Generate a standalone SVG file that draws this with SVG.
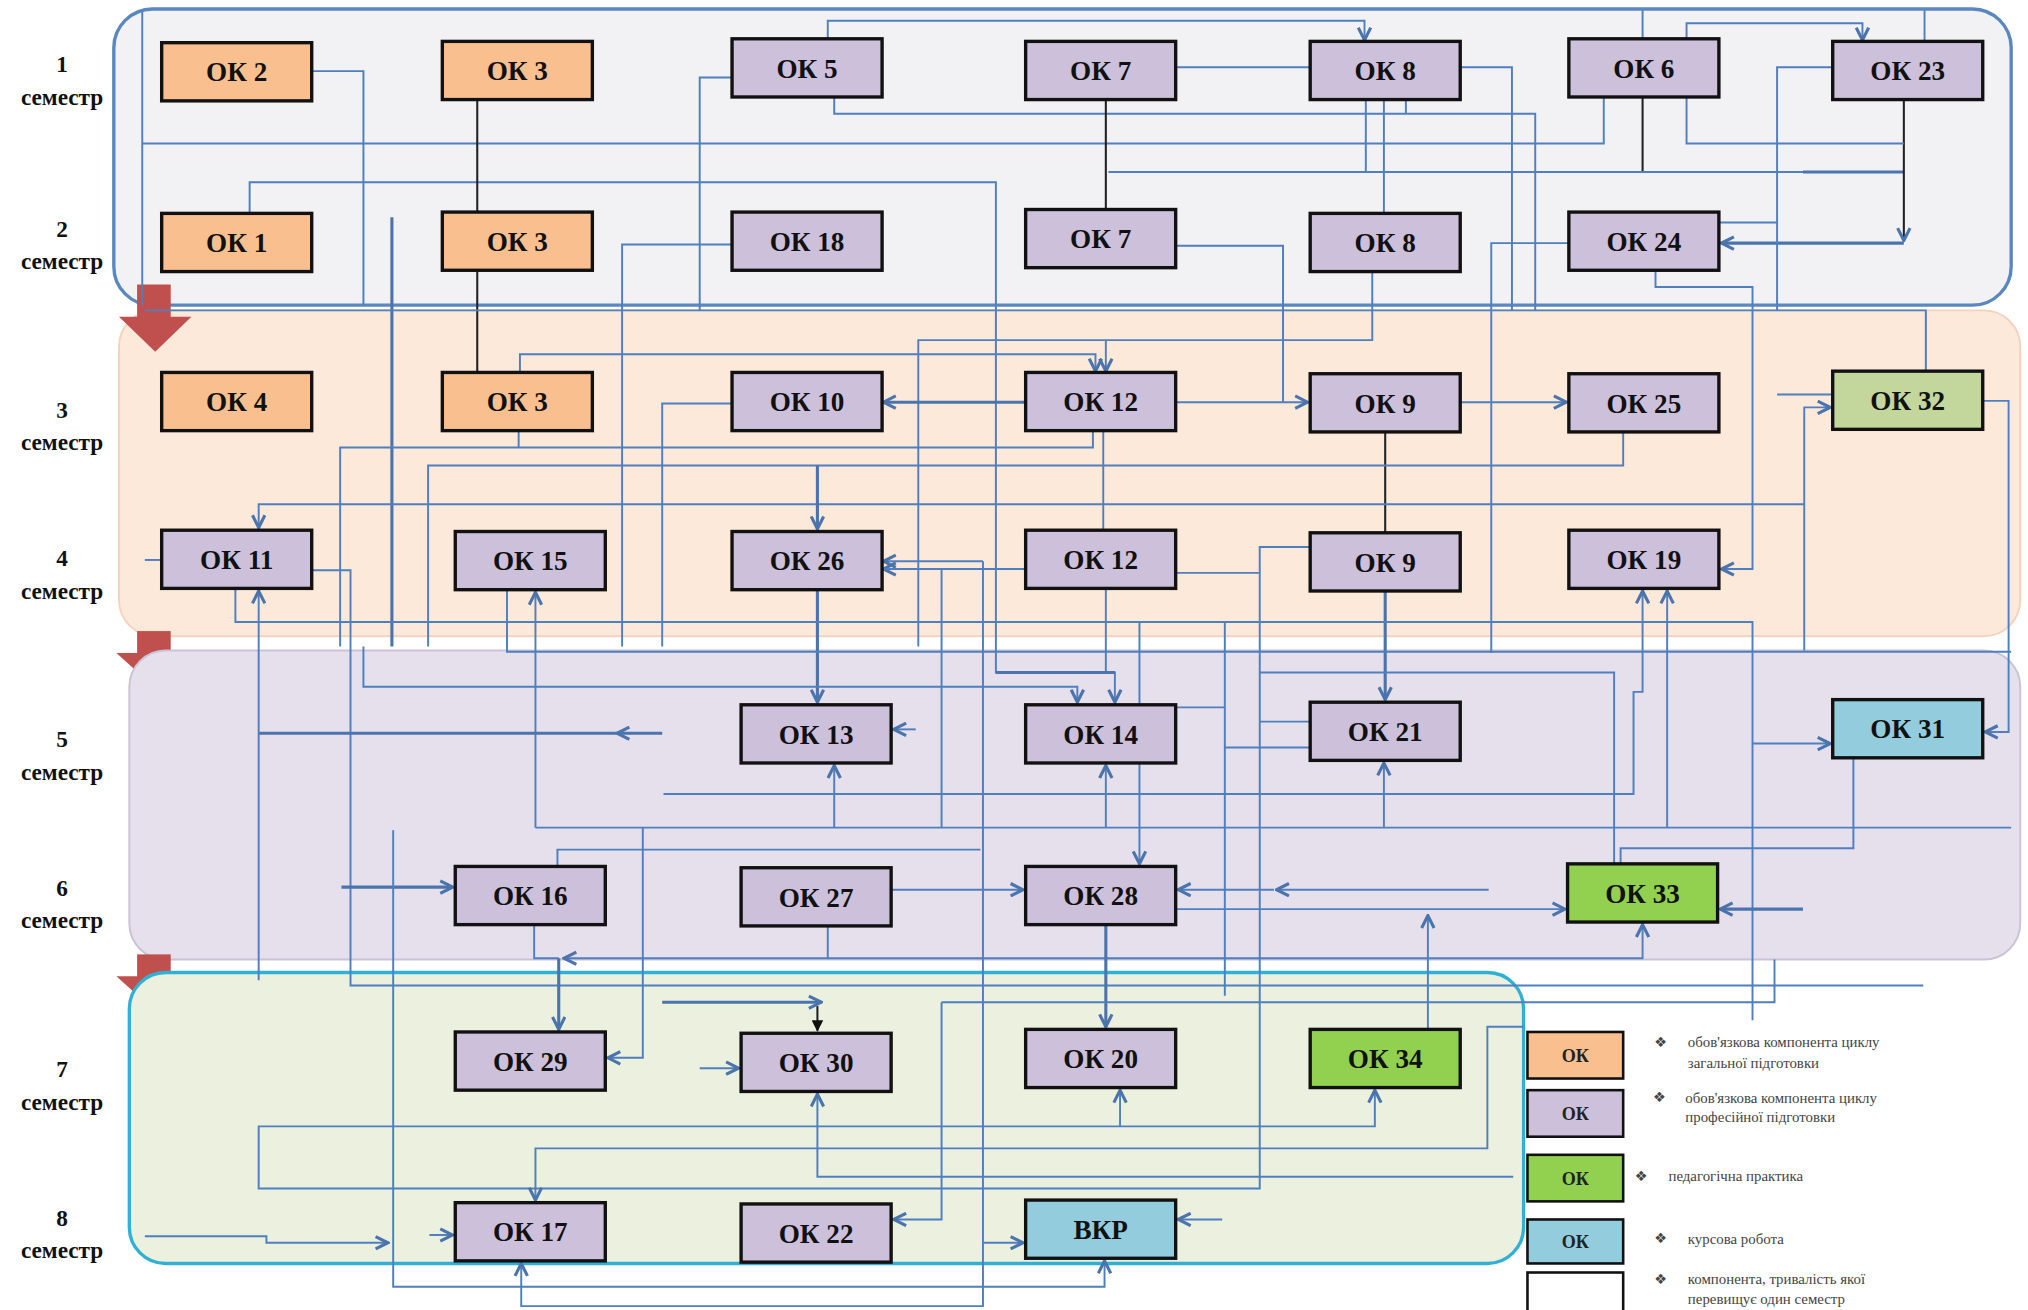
<svg xmlns="http://www.w3.org/2000/svg" width="2028" height="1310" viewBox="0 0 2028 1310">
<defs>
<style>
.c{fill:none;stroke:#4f7fbf;stroke-width:1.5}
.t{fill:none;stroke:#4a74ab;stroke-width:2.4}
.d{fill:none;stroke:#222;stroke-width:1.6}
.n rect{stroke:#111;stroke-width:2.6}
.n text{font-family:"Liberation Serif",serif;font-weight:bold;font-size:21px;text-anchor:middle;fill:#111}
.o{fill:#f9bf8f}.p{fill:#ccc0da}.g{fill:#92d050}.lg{fill:#c3d69b}.b{fill:#93cddd}.w{fill:#fff}
.sem{font-family:"Liberation Serif",serif;font-weight:bold;font-size:18px;text-anchor:middle;fill:#111}
.lt{font-family:"Liberation Serif",serif;font-size:11.5px;fill:#444}
.bu{font-family:"DejaVu Sans",sans-serif;font-size:11px;fill:#444}
.lk{font-family:"Liberation Serif",serif;font-weight:bold;font-size:14px;text-anchor:middle;fill:#222}
.ra{fill:#c0504d}
</style>
<marker id="a" viewBox="0 0 10 10" refX="9" refY="5" markerWidth="12" markerHeight="12" markerUnits="userSpaceOnUse" orient="auto"><path d="M1,1 L9,5 L1,9" fill="none" stroke="#4a74ab" stroke-width="2"/></marker>
<marker id="k" viewBox="0 0 10 10" refX="9" refY="5" markerWidth="9" markerHeight="9" markerUnits="userSpaceOnUse" orient="auto"><path d="M0,0 L10,5 L0,10 Z" fill="#111"/></marker>
</defs>
<rect width="2028" height="1310" fill="#fff"/>
<g transform="scale(1.29337,1.29319)">
<g id="groups">
<rect x="88" y="7" width="1467" height="229" rx="30" fill="#f2f2f4" stroke="#5a87c0" stroke-width="2.6"/>
<rect x="92" y="240" width="1470" height="252" rx="28" fill="#fde9d9" stroke="#f3d3bd" stroke-width="1.5"/>
<g class="ra"><rect x="106" y="220" width="26" height="26"/><polygon points="92,245 148,245 120,272"/></g>
<g class="ra"><rect x="106" y="488" width="26" height="18"/><polygon points="90,505 150,505 120,532"/></g>
<rect x="100" y="503" width="1462" height="239" rx="28" fill="#e6e0ec" stroke="#cbc2d8" stroke-width="1.5"/>
<g class="ra"><rect x="106" y="738" width="26" height="18"/><polygon points="90,755 150,755 120,782"/></g>
<rect x="100" y="752" width="1078" height="225" rx="28" fill="#ebf1de" stroke="#31b0d5" stroke-width="2.6"/>
</g>
<g id="connectors">
<path class="c" d="M241,55 H281 V236"/>
<path class="c" d="M110,9 V236"/>
<path class="c" d="M110,111 H1240 V75"/>
<path class="c" d="M193,165 V141 H770 V520 H862 V543" marker-end="url(#a)"/>
<path class="c" d="M640,30 V16 H1055 V31" marker-end="url(#a)"/>
<path class="c" d="M1270,30 V8 M1488,32 V8"/>
<path class="c" d="M1304,30 V18 H1440 V31" marker-end="url(#a)"/>
<path class="c" d="M566,60 H541 V240"/>
<path class="c" d="M645,74 V88 H1187 V240 M1087,77 V88"/>
<path class="c" d="M909,52 H1013"/>
<path class="d" d="M855,76 V162 M369,76 V164 M369,209 V288 M1270,75 V133 M1071,334 V412"/>
<path class="c" d="M857,133 H1472"/>
<path class="t" d="M1394,133 H1472"/>
<path class="d" d="M1472,77 V186" marker-end="url(#a)"/>
<path class="t" d="M1472,188 H1331" marker-end="url(#a)"/>
<path class="c" d="M1304,75 V111 H1472"/>
<path class="c" d="M1056,77 V133 M1070,77 V165"/>
<path class="c" d="M1129,52 H1169 V240"/>
<path class="c" d="M1417,52 H1374 V240 M1374,172 H1329"/>
<path class="c" d="M1280,209 V222 H1355 V440 H1331" marker-end="url(#a)"/>
<path class="c" d="M481,500 V189 H566"/>
<path class="t" d="M303,168 V500"/>
<path class="c" d="M909,190 H992 V311"/>
<path class="c" d="M1061,210 V263 H710 V500"/>
<path class="c" d="M855,263 V287" marker-end="url(#a)"/>
<path class="c" d="M1213,188 H1153 V505"/>
<path class="c" d="M1151,688 H987" marker-end="url(#a)"/>
<path class="c" d="M985,688 H911" marker-end="url(#a)"/>
<path class="c" d="M112,240 H1489 V287"/>
<path class="c" d="M402,288 V274 H847 V287" marker-end="url(#a)"/>
<path class="t" d="M793,311 H683" marker-end="url(#a)"/>
<path class="c" d="M909,311 H1011" marker-end="url(#a)"/>
<path class="c" d="M1129,311 H1211" marker-end="url(#a)"/>
<path class="c" d="M1255,334 V360 H331 V500"/>
<path class="c" d="M845,333 V346 H263 V500 M401,333 V346"/>
<path class="c" d="M853,333 V410"/>
<path class="c" d="M566,312 H512 V500"/>
<path class="c" d="M1395,503 V315 H1415" marker-end="url(#a)"/>
<path class="c" d="M1395,390 H200 V408" marker-end="url(#a)"/>
<path class="t" d="M632,360 V409" marker-end="url(#a)"/>
<path class="c" d="M793,440 H683" marker-end="url(#a)"/>
<path class="c" d="M760,434 V1010 H403 V977" marker-end="url(#a)"/>
<path class="c" d="M760,434 H683" marker-end="url(#a)"/>
<path class="c" d="M728,640 V440 H683"/>
<path class="c" d="M909,443 H974 M1013,423 H974 V919 H200 V871 H1063 V843" marker-end="url(#a)"/>
<path class="c" d="M866,871 V843" marker-end="url(#a)"/>
<path class="t" d="M1071,457 V541" marker-end="url(#a)"/>
<path class="t" d="M632,456 V543" marker-end="url(#a)"/>
<path class="c" d="M855,455 V520"/>
<path class="c" d="M182,455 V481 H1355 V789"/>
<path class="c" d="M414,640 V458" marker-end="url(#a)"/>
<path class="c" d="M414,640 H1555"/>
<path class="c" d="M392,456 V504 H1555"/>
<path class="c" d="M125,433 H112"/>
<path class="c" d="M241,441 H271 V762 H1487"/>
<path class="t" d="M512,567 H477" marker-end="url(#a)"/>
<path class="t" d="M478,567 H200"/>
<path class="c" d="M200,758 V457" marker-end="url(#a)"/>
<path class="c" d="M1533,310 H1553 V566 H1535" marker-end="url(#a)"/>
<path class="c" d="M1374,305 H1417"/>
<path class="c" d="M281,500 V531 H833 V543" marker-end="url(#a)"/>
<path class="t" d="M770,520 H862"/>
<path class="c" d="M708,564 H691" marker-end="url(#a)"/>
<path class="c" d="M645,640 V592" marker-end="url(#a)"/>
<path class="c" d="M855,640 V592" marker-end="url(#a)"/>
<path class="c" d="M881,481 V545 M881,590 V668" marker-end="url(#a)"/>
<path class="c" d="M1070,640 V590" marker-end="url(#a)"/>
<path class="c" d="M1289,640 V457" marker-end="url(#a)"/>
<path class="c" d="M513,614 H1263 V535 H1270 V457" marker-end="url(#a)"/>
<path class="c" d="M431,670 V657 H758"/>
<path class="c" d="M689,688 H791" marker-end="url(#a)"/>
<path class="c" d="M909,547 H947 M947,481 V770"/>
<path class="c" d="M1013,558 H974 M1013,578 H947"/>
<path class="c" d="M974,520 H1248 V668"/>
<path class="c" d="M1433,586 V656 H1253 V668"/>
<path class="c" d="M1355,575 H1415" marker-end="url(#a)"/>
<path class="c" d="M909,703 H1210" marker-end="url(#a)"/>
<path class="t" d="M1394,703 H1330" marker-end="url(#a)"/>
<path class="c" d="M640,716 V741 H1270 V715" marker-end="url(#a)"/>
<path class="c" d="M640,741 H436" marker-end="url(#a)"/>
<path class="c" d="M413,715 V741 H432"/>
<path class="t" d="M432,741 V796" marker-end="url(#a)"/>
<path class="t" d="M855,715 V794" marker-end="url(#a)"/>
<path class="c" d="M1104,796 V708" marker-end="url(#a)"/>
<path class="t" d="M264,686 H350" marker-end="url(#a)"/>
<path class="c" d="M497,640 V818 H470" marker-end="url(#a)"/>
<path class="c" d="M304,642 V995 H854 V975" marker-end="url(#a)"/>
<path class="c" d="M541,826 H571" marker-end="url(#a)"/>
<path class="t" d="M512,775 H635" marker-end="url(#a)"/>
<path class="d" d="M632,778 V797" marker-end="url(#k)"/>
<path class="c" d="M728,775 H1372 V742"/>
<path class="c" d="M728,775 V943 H691" marker-end="url(#a)"/>
<path class="c" d="M1170,910 H632 V846" marker-end="url(#a)"/>
<path class="c" d="M1178,794 H1150 V888 H414 V928" marker-end="url(#a)"/>
<path class="c" d="M760,961 H791" marker-end="url(#a)"/>
<path class="c" d="M945,943 H911" marker-end="url(#a)"/>
<path class="c" d="M112,956 H206 V961 H300" marker-end="url(#a)"/>
<path class="c" d="M332,955 H350" marker-end="url(#a)"/>
</g>
<g id="ok2" class="n"><rect class="o" x="125" y="33" width="116" height="45"/><text x="183" y="63">ОК 2</text></g>
<g id="ok3-1" class="n"><rect class="o" x="342" y="32" width="116" height="45"/><text x="400" y="62">ОК 3</text></g>
<g id="ok5" class="n"><rect class="p" x="566" y="30" width="116" height="45"/><text x="624" y="60">ОК 5</text></g>
<g id="ok7-1" class="n"><rect class="p" x="793" y="32" width="116" height="45"/><text x="851" y="62">ОК 7</text></g>
<g id="ok8-1" class="n"><rect class="p" x="1013" y="32" width="116" height="45"/><text x="1071" y="62">ОК 8</text></g>
<g id="ok6" class="n"><rect class="p" x="1213" y="30" width="116" height="45"/><text x="1271" y="60">ОК 6</text></g>
<g id="ok23" class="n"><rect class="p" x="1417" y="32" width="116" height="45"/><text x="1475" y="62">ОК 23</text></g>
<g id="ok1" class="n"><rect class="o" x="125" y="165" width="116" height="45"/><text x="183" y="195">ОК 1</text></g>
<g id="ok3-2" class="n"><rect class="o" x="342" y="164" width="116" height="45"/><text x="400" y="194">ОК 3</text></g>
<g id="ok18" class="n"><rect class="p" x="566" y="164" width="116" height="45"/><text x="624" y="194">ОК 18</text></g>
<g id="ok7-2" class="n"><rect class="p" x="793" y="162" width="116" height="45"/><text x="851" y="192">ОК 7</text></g>
<g id="ok8-2" class="n"><rect class="p" x="1013" y="165" width="116" height="45"/><text x="1071" y="195">ОК 8</text></g>
<g id="ok24" class="n"><rect class="p" x="1213" y="164" width="116" height="45"/><text x="1271" y="194">ОК 24</text></g>
<g id="ok4" class="n"><rect class="o" x="125" y="288" width="116" height="45"/><text x="183" y="318">ОК 4</text></g>
<g id="ok3-3" class="n"><rect class="o" x="342" y="288" width="116" height="45"/><text x="400" y="318">ОК 3</text></g>
<g id="ok10" class="n"><rect class="p" x="566" y="288" width="116" height="45"/><text x="624" y="318">ОК 10</text></g>
<g id="ok12-1" class="n"><rect class="p" x="793" y="288" width="116" height="45"/><text x="851" y="318">ОК 12</text></g>
<g id="ok9-1" class="n"><rect class="p" x="1013" y="289" width="116" height="45"/><text x="1071" y="319">ОК 9</text></g>
<g id="ok25" class="n"><rect class="p" x="1213" y="289" width="116" height="45"/><text x="1271" y="319">ОК 25</text></g>
<g id="ok32" class="n"><rect class="lg" x="1417" y="287" width="116" height="45"/><text x="1475" y="317">ОК 32</text></g>
<g id="ok11" class="n"><rect class="p" x="125" y="410" width="116" height="45"/><text x="183" y="440">ОК 11</text></g>
<g id="ok15" class="n"><rect class="p" x="352" y="411" width="116" height="45"/><text x="410" y="441">ОК 15</text></g>
<g id="ok26" class="n"><rect class="p" x="566" y="411" width="116" height="45"/><text x="624" y="441">ОК 26</text></g>
<g id="ok12-2" class="n"><rect class="p" x="793" y="410" width="116" height="45"/><text x="851" y="440">ОК 12</text></g>
<g id="ok9-2" class="n"><rect class="p" x="1013" y="412" width="116" height="45"/><text x="1071" y="442">ОК 9</text></g>
<g id="ok19" class="n"><rect class="p" x="1213" y="410" width="116" height="45"/><text x="1271" y="440">ОК 19</text></g>
<g id="ok13" class="n"><rect class="p" x="573" y="545" width="116" height="45"/><text x="631" y="575">ОК 13</text></g>
<g id="ok14" class="n"><rect class="p" x="793" y="545" width="116" height="45"/><text x="851" y="575">ОК 14</text></g>
<g id="ok21" class="n"><rect class="p" x="1013" y="543" width="116" height="45"/><text x="1071" y="573">ОК 21</text></g>
<g id="ok31" class="n"><rect class="b" x="1417" y="541" width="116" height="45"/><text x="1475" y="571">ОК 31</text></g>
<g id="ok16" class="n"><rect class="p" x="352" y="670" width="116" height="45"/><text x="410" y="700">ОК 16</text></g>
<g id="ok27" class="n"><rect class="p" x="573" y="671" width="116" height="45"/><text x="631" y="701">ОК 27</text></g>
<g id="ok28" class="n"><rect class="p" x="793" y="670" width="116" height="45"/><text x="851" y="700">ОК 28</text></g>
<g id="ok33" class="n"><rect class="g" x="1212" y="668" width="116" height="45"/><text x="1270" y="698">ОК 33</text></g>
<g id="ok29" class="n"><rect class="p" x="352" y="798" width="116" height="45"/><text x="410" y="828">ОК 29</text></g>
<g id="ok30" class="n"><rect class="p" x="573" y="799" width="116" height="45"/><text x="631" y="829">ОК 30</text></g>
<g id="ok20" class="n"><rect class="p" x="793" y="796" width="116" height="45"/><text x="851" y="826">ОК 20</text></g>
<g id="ok34" class="n"><rect class="g" x="1013" y="796" width="116" height="45"/><text x="1071" y="826">ОК 34</text></g>
<g id="ok17" class="n"><rect class="p" x="352" y="930" width="116" height="45"/><text x="410" y="960">ОК 17</text></g>
<g id="ok22" class="n"><rect class="p" x="573" y="931" width="116" height="45"/><text x="631" y="961">ОК 22</text></g>
<g id="vkr" class="n"><rect class="b" x="793" y="928" width="116" height="45"/><text x="851" y="958">ВКР</text></g>
<g id="semesters">
<text class="sem" x="48" y="56">1</text><text class="sem" x="48" y="81">семестр</text>
<text class="sem" x="48" y="183">2</text><text class="sem" x="48" y="208">семестр</text>
<text class="sem" x="48" y="323">3</text><text class="sem" x="48" y="348">семестр</text>
<text class="sem" x="48" y="438">4</text><text class="sem" x="48" y="463">семестр</text>
<text class="sem" x="48" y="578">5</text><text class="sem" x="48" y="603">семестр</text>
<text class="sem" x="48" y="693">6</text><text class="sem" x="48" y="718">семестр</text>
<text class="sem" x="48" y="833">7</text><text class="sem" x="48" y="858">семестр</text>
<text class="sem" x="48" y="948">8</text><text class="sem" x="48" y="973">семестр</text>
</g>
<g id="legend">
<g class="n"><rect class="o" x="1181" y="798" width="74" height="36" style="stroke-width:2"/></g><text class="lk" x="1218" y="821">ОК</text>
<g class="n"><rect class="p" x="1181" y="843" width="74" height="36" style="stroke-width:2"/></g><text class="lk" x="1218" y="866">ОК</text>
<g class="n"><rect class="g" x="1181" y="893" width="74" height="36" style="stroke-width:2"/></g><text class="lk" x="1218" y="916">ОК</text>
<g class="n"><rect class="b" x="1181" y="943" width="74" height="34" style="stroke-width:2"/></g><text class="lk" x="1218" y="965">ОК</text>
<g class="n"><rect class="w" x="1181" y="984" width="74" height="32" style="stroke-width:2"/></g>
<text class="bu" x="1279" y="810">❖</text><text class="lt" x="1305" y="810">обов'язкова компонента циклу</text><text class="lt" x="1305" y="826">загальної підготовки</text>
<text class="bu" x="1278" y="852">❖</text><text class="lt" x="1303" y="853">обов'язкова компонента циклу</text><text class="lt" x="1303" y="868">професійної підготовки</text>
<text class="bu" x="1264" y="913">❖</text><text class="lt" x="1290" y="913">педагогічна практика</text>
<text class="bu" x="1279" y="961">❖</text><text class="lt" x="1305" y="962">курсова робота</text>
<text class="bu" x="1279" y="993">❖</text><text class="lt" x="1305" y="993">компонента, тривалість якої</text><text class="lt" x="1305" y="1008">перевищує один семестр</text>
</g>
</g>
</svg>
